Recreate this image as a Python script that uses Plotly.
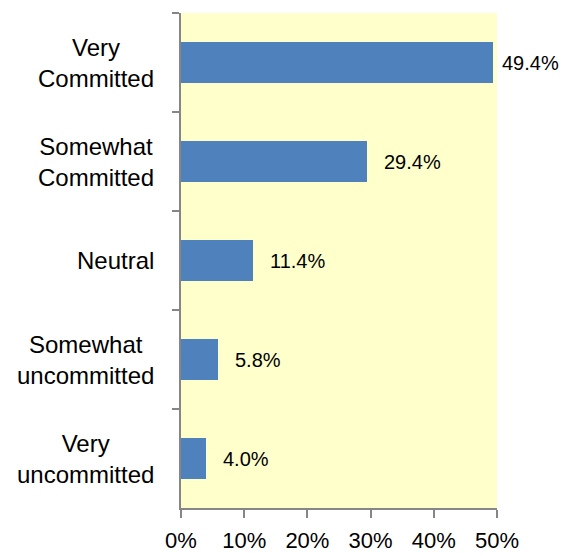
import plotly.graph_objects as go

# Survey responses: level of commitment
categories = ["Very<br>Committed", "Somewhat<br>Committed", "Neutral",
              "Somewhat<br>uncommitted", "Very<br>uncommitted"]
shares = [0.494, 0.294, 0.114, 0.058, 0.040]
value_labels = ["49.4%", "29.4%", "11.4%", "5.8%", "4.0%"]
x_ticks = [0, 0.1, 0.2, 0.3, 0.4, 0.5]
x_tick_labels = ["0%", "10%", "20%", "30%", "40%", "50%"]

FONT = "Liberation Sans, Arial, sans-serif"
AXIS_GREY = "#868686"

fig = go.Figure(
    go.Bar(
        x=shares,
        y=categories,
        orientation="h",
        width=0.41,
        marker=dict(color="#4F81BD", line=dict(width=0)),
        hoverinfo="skip",
    )
)

# Category labels, centred line by line, to the left of the axis
for cat in categories:
    fig.add_annotation(
        x=0, xref="paper", y=cat, yref="y",
        text=cat, showarrow=False,
        xanchor="right", yanchor="middle", align="center",
        xshift=-25,
        font=dict(family=FONT, size=24, color="#000000"),
    )

# Value labels just past the end of each bar
for cat, v, lab in zip(categories, shares, value_labels):
    fig.add_annotation(
        x=v, xref="x", y=cat, yref="y",
        text=lab, showarrow=False,
        xanchor="left", yanchor="middle",
        xshift=7 if v > 0.45 else 15,
        font=dict(family=FONT, size=20, color="#000000"),
    )

fig.update_layout(
    width=561, height=556,
    margin=dict(l=181, r=64, t=13, b=48),
    paper_bgcolor="#FFFFFF",
    plot_bgcolor="#FFFFCC",
    showlegend=False,
    bargap=0,
)

fig.update_xaxes(
    range=[0, 0.5],
    tickvals=x_ticks, ticktext=x_tick_labels,
    showgrid=False, zeroline=False,
    showline=True, linecolor=AXIS_GREY, linewidth=1.5,
    ticks="outside", ticklen=8, tickwidth=1.5, tickcolor=AXIS_GREY,
    ticklabelstandoff=4,
    automargin=False,
    tickfont=dict(family=FONT, size=22, color="#000000"),
)

fig.update_yaxes(
    autorange="reversed",
    showticklabels=False,
    showgrid=False, zeroline=False,
    showline=True, linecolor=AXIS_GREY, linewidth=1.5,
    ticks="outside", ticklen=7, tickwidth=1.5, tickcolor=AXIS_GREY,
    tickson="boundaries",
    automargin=False,
)

fig.write_html("out.html")
